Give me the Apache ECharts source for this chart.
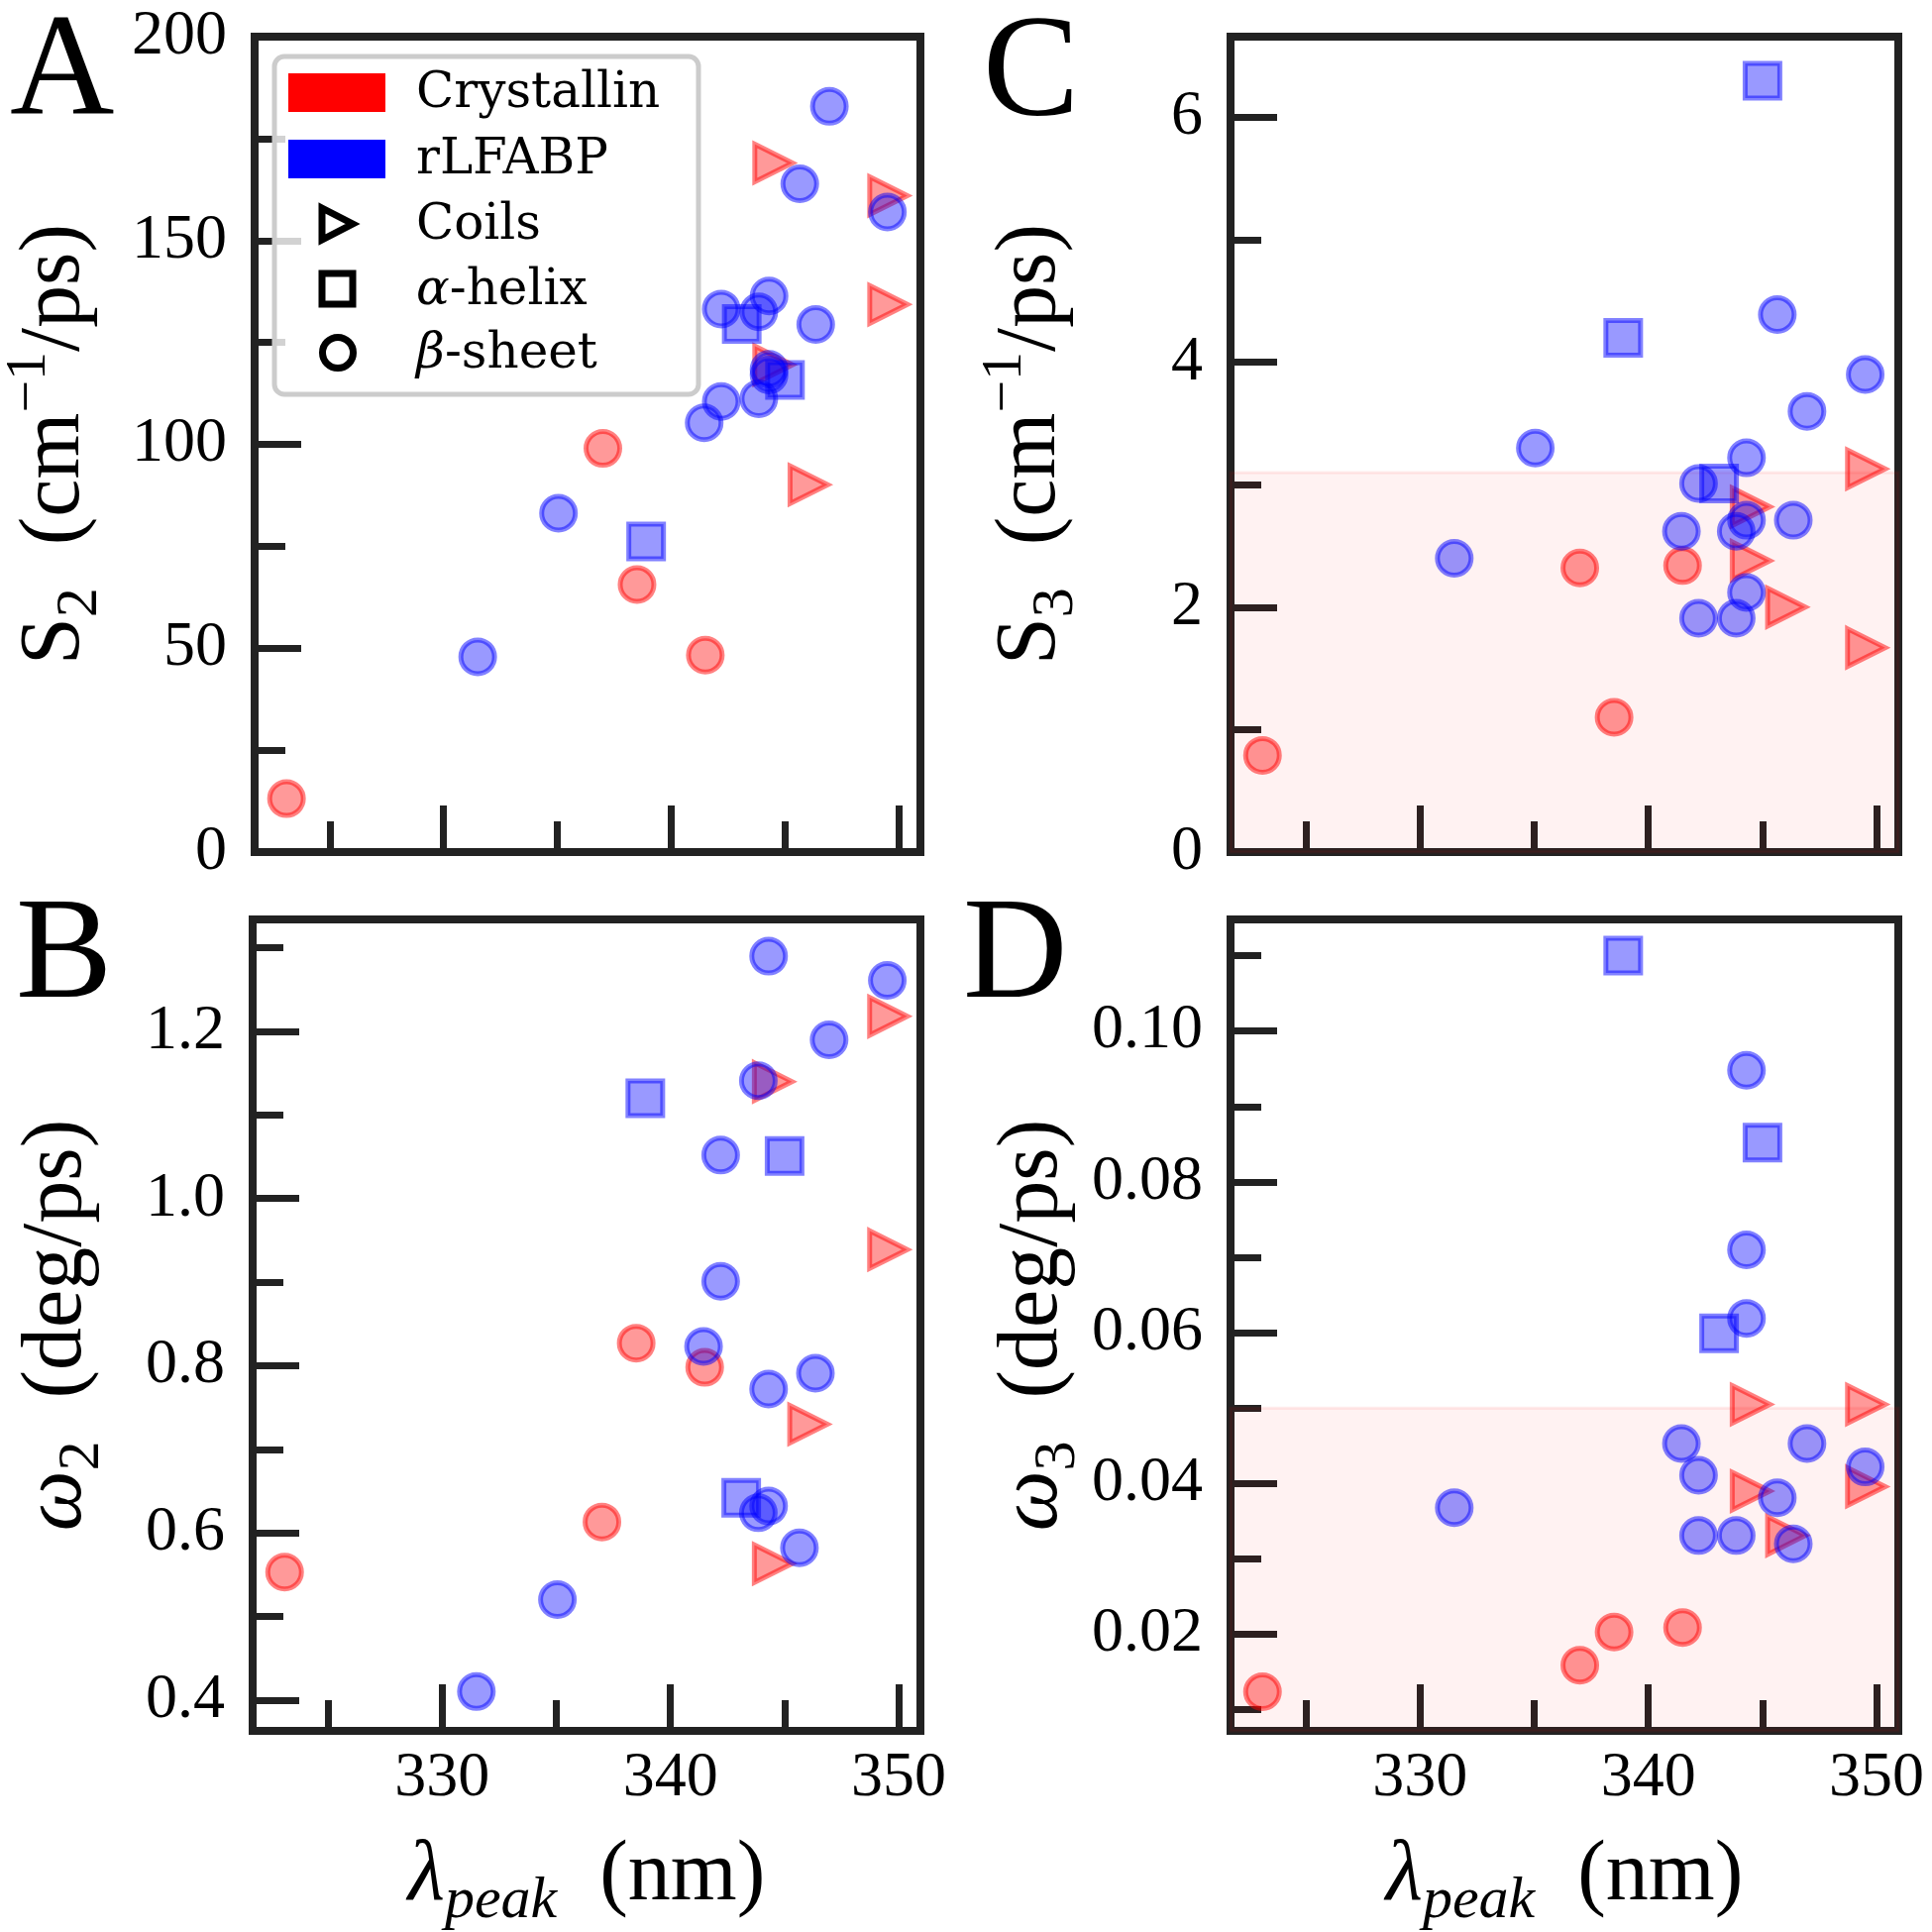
<!DOCTYPE html>
<html>
<head>
<meta charset="utf-8">
<script src="https://cdn.jsdelivr.net/npm/echarts@6/dist/echarts.min.js"></script>
<style>
  html, body { margin: 0; background: #fff; }
  #chart { width: 1950px; height: 1950px; }
</style>
</head>
<body>
<div id="chart"></div>
<script>
// ---- data ----
// x = lambda_peak (nm) per group, shared by all four panels
const redCircX  = [323.1, 337.0, 338.5, 341.5];                  // Crystallin, beta-sheet
const redTriX   = [344.5, 344.5, 346.05, 349.55, 349.55];       // Crystallin, coils
const blueSqX   = [338.9, 343.1, 345.0];                         // rLFABP, alpha-helix
const blueCircX = [331.5, 335.05, 341.45, 342.2, 342.2, 343.85, 343.85,
                   344.3, 344.3, 344.3, 345.65, 346.35, 346.95, 349.5]; // rLFABP, beta-sheet

// panel A : S2
const s2RedCirc  = [13.1, 99.0, 65.6, 48.3];
const s2RedTri   = [169, 119.5, 90.1, 161, 134.3];
const s2BlueSq   = [76.2, 129.5, 115.8];
const s2BlueCirc = [47.9, 83.1, 105.3, 110.5, 133.2, 111.2, 132.5, 136.4, 118.4, 117.0, 163.9, 129.4, 182.9, 157.0];

// panel B : omega2
const w2RedCirc  = [0.553, 0.613, 0.827, 0.798];
const w2RedTri   = [1.140, 0.563, 0.730, 1.218, 0.939];
const w2BlueSq   = [1.120, 0.642, 1.051];
const w2BlueCirc = [0.410, 0.520, 0.823, 1.052, 0.901, 1.141, 0.624, 1.290, 0.772, 0.632, 0.582, 0.791, 1.190, 1.261];

// panel C : S3
const s3RedCirc  = [0.79, 2.32, 1.10, 2.34];
const s3RedTri   = [2.82, 2.38, 2.00, 3.13, 1.67];
const s3BlueSq   = [4.20, 3.01, 6.30];
const s3BlueCirc = [2.40, 3.30, 2.62, 3.01, 1.91, 2.62, 1.91, 3.22, 2.71, 2.12, 4.39, 2.71, 3.60, 3.90];

// panel D : omega3
const w3RedCirc  = [0.0124, 0.0159, 0.0203, 0.0209];
const w3RedTri   = [0.0505, 0.0390, 0.0331, 0.0505, 0.0396];
const w3BlueSq   = [0.110, 0.0599, 0.0852];
const w3BlueCirc = [0.0368, null, 0.0453, 0.0411, 0.0331, 0.0331, null, 0.0948, 0.0710, 0.0619, 0.0381, 0.0320, 0.0453, 0.0422];

// shaded bands (C, D)
const bandC = [0, 3.1];
const bandD = [0.0072, 0.05];

// ticks
const xRange = [321.7, 350.95];
const xLabels = [330, 340, 350];
const xMinor = [325, 335, 345];
const yTicksA = [0, 50, 100, 150, 200],        yMinorA = [25, 75, 125, 175];
const yTicksB = [0.4, 0.6, 0.8, 1.0, 1.2],     yMinorB = [0.5, 0.7, 0.9, 1.1, 1.3];
const yTicksC = [0, 2, 4, 6],                  yMinorC = [1, 3, 5];
const yTicksD = [0.02, 0.04, 0.06, 0.08, 0.10], yMinorD = [0.01, 0.03, 0.05, 0.07, 0.09, 0.11];

// ---- styling ----
const SERIF = 'Liberation Serif';
const INK = '#222';
const RED = 'rgba(255,0,0,0.5)', RED_EDGE = 'rgba(255,0,0,0.62)';
const BLUE = 'rgba(0,0,255,0.5)', BLUE_EDGE = 'rgba(0,0,255,0.62)';
const TRI = 'path://M0,0L2,1L0,2Z';

const titleRich = {
  m: { fontFamily: SERIF, fontSize: 86, lineHeight: 110, color: '#000' },
  w: { fontFamily: SERIF, fontSize: 86, lineHeight: 110, fontStyle: 'italic', color: '#000' },
  b: { fontFamily: SERIF, fontSize: 60, lineHeight: 60, verticalAlign: 'bottom', color: '#000' },
  bi: { fontFamily: SERIF, fontSize: 60, lineHeight: 60, verticalAlign: 'bottom', fontStyle: 'italic', color: '#000' },
  p: { fontFamily: SERIF, fontSize: 58, lineHeight: 60, verticalAlign: 'top', color: '#000' }
};

const panels = [
  { grid: { left: 255, top: 37, width: 674, height: 823 }, y: [0, 200], ticks: yTicksA, minor: yMinorA,
    fmt: v => String(v), name: '{m|S}{b|2}{m|  (cm}{p|−1}{m|/ps)}', gap: 146, xLab: false,
    ys: [s2RedCirc, s2RedTri, s2BlueSq, s2BlueCirc] },
  { grid: { left: 255, top: 928, width: 674, height: 822 }, y: [0.363, 1.334], ticks: yTicksB, minor: yMinorB,
    fmt: v => v.toFixed(1), name: '{w|ω}{b|2}{m|  (deg/ps)}', gap: 142, xLab: true,
    ys: [w2RedCirc, w2RedTri, w2BlueSq, w2BlueCirc] },
  { grid: { left: 1242, top: 37, width: 674, height: 823 }, y: [0, 6.66], ticks: yTicksC, minor: yMinorC,
    fmt: v => String(v), name: '{m|S}{b|3}{m|  (cm}{p|−1}{m|/ps)}', gap: 146, xLab: false, band: bandC,
    ys: [s3RedCirc, s3RedTri, s3BlueSq, s3BlueCirc] },
  { grid: { left: 1242, top: 928, width: 674, height: 822 }, y: [0.0072, 0.1148], ticks: yTicksD, minor: yMinorD,
    fmt: v => v.toFixed(2), name: '{w|ω}{b|3}{m|  (deg/ps)}', gap: 108, xLab: true, band: bandD,
    ys: [w3RedCirc, w3RedTri, w3BlueSq, w3BlueCirc] }
];

const groups = [
  { x: redCircX,  symbol: 'circle', size: 34, color: RED,  edge: RED_EDGE },
  { x: redTriX,   symbol: TRI,      size: 38, color: RED,  edge: RED_EDGE },
  { x: blueSqX,   symbol: 'rect',   size: 35, color: BLUE, edge: BLUE_EDGE },
  { x: blueCircX, symbol: 'circle', size: 34, color: BLUE, edge: BLUE_EDGE }
];

function pairs(xs, ys) {
  return xs.map((x, i) => [x, ys[i]]).filter(p => p[1] != null);
}

const grids = [], xAxes = [], yAxes = [], series = [];

panels.forEach((p, i) => {
  grids.push(Object.assign({ show: true, borderColor: INK, borderWidth: 8, backgroundColor: 'transparent' }, p.grid));

  const tickStyle = { color: INK, width: 7 };
  // major x
  xAxes.push({
    type: 'value', gridIndex: i, position: 'bottom', offset: 0, min: xRange[0], max: xRange[1],
    axisLine: { show: false }, splitLine: { show: false },
    axisTick: { inside: true, length: 47, lineStyle: tickStyle, customValues: xLabels },
    axisLabel: { show: p.xLab, customValues: xLabels, margin: 16, fontFamily: SERIF, fontSize: 64, color: '#000' },
    name: p.xLab ? '{w|λ}{bi|peak}{m|  (nm)}' : '', nameLocation: 'middle', nameGap: 92,
    nameTextStyle: { rich: titleRich }
  });
  // minor x
  xAxes.push({
    type: 'value', gridIndex: i, position: 'bottom', offset: 0, min: xRange[0], max: xRange[1],
    axisLine: { show: false }, splitLine: { show: false },
    axisTick: { inside: true, length: 31, lineStyle: tickStyle, customValues: xMinor },
    axisLabel: { show: false }
  });
  // major y
  yAxes.push({
    type: 'value', gridIndex: i, position: 'left', offset: 0, min: p.y[0], max: p.y[1],
    axisLine: { show: false }, splitLine: { show: false },
    axisTick: { inside: true, length: 47, lineStyle: tickStyle, customValues: p.ticks },
    axisLabel: { customValues: p.ticks, formatter: p.fmt, margin: 28, fontFamily: SERIF, fontSize: 64, color: '#000' },
    name: p.name, nameLocation: 'middle', nameRotate: 90, nameGap: p.gap,
    nameTextStyle: { rich: titleRich }
  });
  // minor y
  yAxes.push({
    type: 'value', gridIndex: i, position: 'left', offset: 0, min: p.y[0], max: p.y[1],
    axisLine: { show: false }, splitLine: { show: false },
    axisTick: { inside: true, length: 31, lineStyle: tickStyle, customValues: p.minor },
    axisLabel: { show: false }
  });

  groups.forEach((g, k) => {
    const s = {
      type: 'scatter', xAxisIndex: 2 * i, yAxisIndex: 2 * i, silent: true,
      symbol: g.symbol, symbolSize: g.size,
      itemStyle: { color: g.color, borderColor: g.edge, borderWidth: 5 },
      data: pairs(g.x, p.ys[k])
    };
    if (k === 0 && p.band) {
      s.markArea = {
        silent: true,
        itemStyle: { color: 'rgba(255,0,0,0.05)', borderColor: 'rgba(255,0,0,0.08)', borderWidth: 3 },
        data: [[{ yAxis: p.band[0] }, { yAxis: p.band[1] }]]
      };
    }
    series.push(s);
  });
});

// legend + panel letters
const legendText = { fontFamily: 'DejaVu Serif', fontSize: 50, fill: '#000' };
const legendRich = {
  g: { fontFamily: 'DejaVu Serif', fontSize: 50, fontStyle: 'italic' },
  t: { fontFamily: 'DejaVu Serif', fontSize: 50 }
};
const legendRows = [
  { label: 'Crystallin', y: 95 },
  { label: 'rLFABP', y: 162 },
  { label: 'Coils', y: 228 },
  { label: '{g|α}{t|-helix}', y: 294 },
  { label: '{g|β}{t|-sheet}', y: 358 }
];

const graphic = [
  { type: 'rect', shape: { x: 277, y: 57, width: 428, height: 341, r: 10 }, z: 10,
    style: { fill: 'rgba(255,255,255,0.8)', stroke: '#cccccc', lineWidth: 5 } },
  { type: 'rect', shape: { x: 291, y: 74, width: 98, height: 39 }, z: 11, style: { fill: '#ff0000' } },
  { type: 'rect', shape: { x: 291, y: 141, width: 98, height: 39 }, z: 11, style: { fill: '#0000ff' } },
  { type: 'polygon', shape: { points: [[325, 210], [356, 226], [325, 242]] }, z: 11,
    style: { fill: 'none', stroke: '#000', lineWidth: 7, lineJoin: 'miter' } },
  { type: 'rect', shape: { x: 325, y: 276, width: 31, height: 31 }, z: 11,
    style: { fill: 'none', stroke: '#000', lineWidth: 7 } },
  { type: 'circle', shape: { cx: 341, cy: 356, r: 15.5 }, z: 11,
    style: { fill: 'none', stroke: '#000', lineWidth: 7 } }
];
legendRows.forEach(r => {
  graphic.push({ type: 'text', z: 11,
    style: Object.assign({ text: r.label, x: 420, y: r.y, textVerticalAlign: 'middle', rich: legendRich }, legendText) });
});
[['A', 10, 76], ['B', 16, 968], ['C', 992, 78], ['D', 972, 968]].forEach(l => {
  graphic.push({ type: 'text', z: 11,
    style: { text: l[0], x: l[1], y: l[2], textVerticalAlign: 'middle', fontFamily: SERIF, fontSize: 146, fill: '#000' } });
});

const chart = echarts.init(document.getElementById('chart'), null, { renderer: 'canvas' });
chart.setOption({
  animation: false,
  backgroundColor: '#fff',
  grid: grids,
  xAxis: xAxes,
  yAxis: yAxes,
  series: series,
  graphic: graphic
});
</script>
</body>
</html>
